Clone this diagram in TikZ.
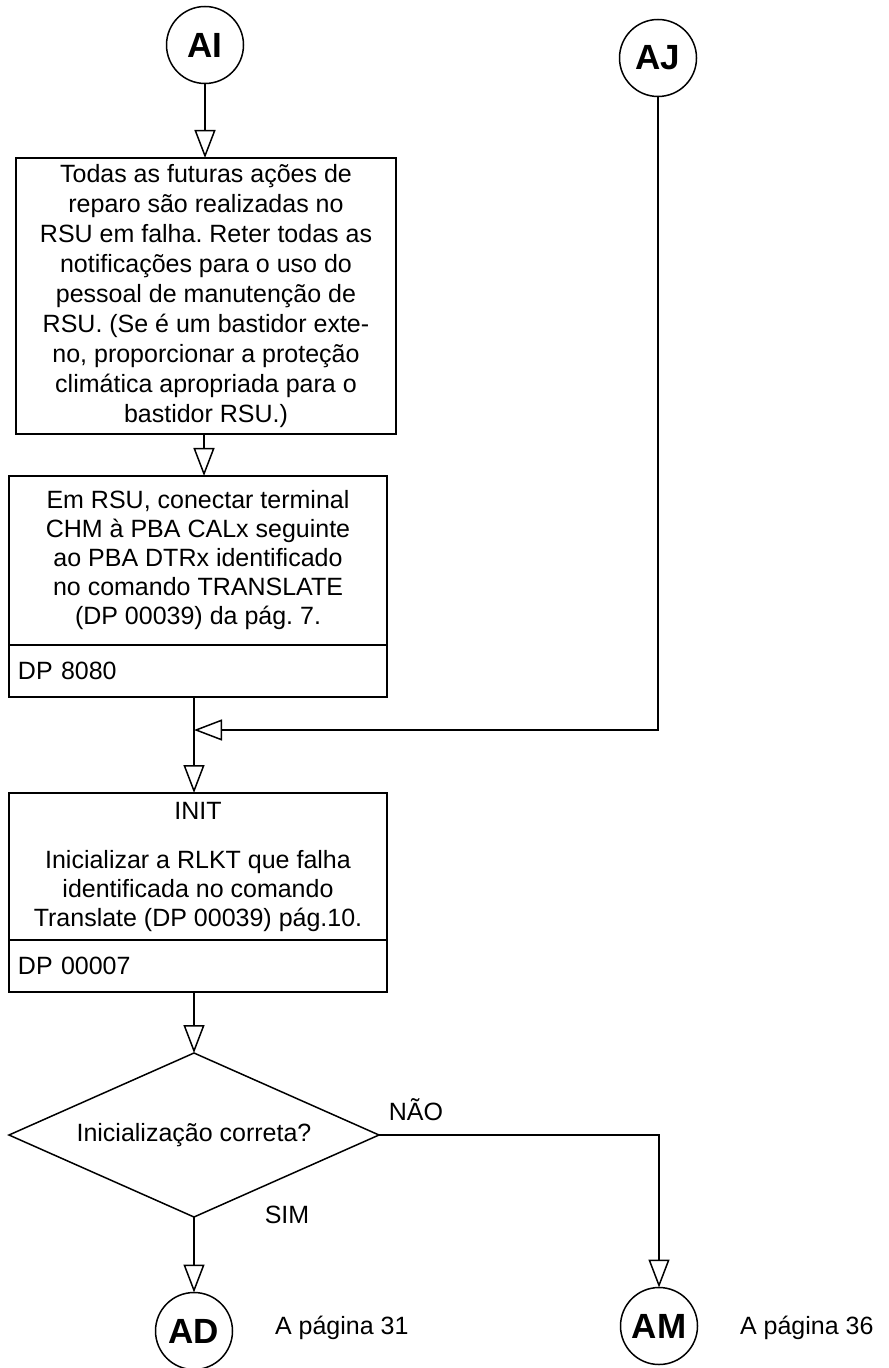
\documentclass[tikz,border=0pt]{standalone}
\usepackage{fontspec}
\setmainfont{Liberation Sans}
\newfontfamily\tagfont{Liberation Sans}
\usetikzlibrary{arrows.meta,shapes.geometric}
\frenchspacing
\begin{document}
\begin{tikzpicture}[x=0.5pt,y=-0.5pt,
  every node/.style={inner sep=0pt, outer sep=0pt},
  txt/.style={font=\fontsize{12.5}{14.5}\selectfont},
  wire/.style={line width=0.75pt, draw=black},
  tip/.style={wire, -{Triangle[open,length=14pt,width=10.5pt,line width=0.75pt]}},
  connector/.style={circle, draw, line width=0.75pt, minimum size=38.5pt,
    font=\tagfont\bfseries\fontsize{17.5}{20}\selectfont},
  procbox/.style={draw, line width=0.75pt, txt, align=center, minimum width=189pt},
  dpbox/.style={draw, line width=0.75pt, txt, align=left, minimum width=189pt,
    minimum height=26pt, text width=180pt, inner xsep=4.5pt},
  decision/.style={diamond, draw, line width=0.75pt, txt, aspect=2.25,
    minimum width=185pt, minimum height=82pt}
]
\useasboundingbox (0,0) rectangle (888,1368);

% off-page connectors
\node[connector] (AI) at (205,45) {AI};
\node[connector] (AJ) at (658,58) {AJ};

% repair note
\node[procbox, minimum width=190pt, minimum height=138pt, font=\fontsize{12.5}{15}\selectfont]
  (note) at (206,296)
  {Todas as futuras ações de\\
   reparo são realizadas no\\
   RSU em falha. Reter todas as\\
   notificações para o uso do\\
   pessoal de manutenção de\\
   RSU. (Se é um bastidor exte-\\
   no, proporcionar a proteção\\
   climática apropriada para o\\
   bastidor RSU.)};

% terminal connection step
\node[procbox, minimum height=84.5pt] (chm) at (198,560.5)
  {Em RSU, conectar terminal\\
   CHM à PBA CALx seguinte\\
   ao PBA DTRx identificado\\
   no comando TRANSLATE\\
   (DP 00039) da pág. 7.};
\node[dpbox] (chmdp) at (198,671) {DP 8080};

% initialisation step
\node[procbox, minimum height=73.5pt] (init) at (198,866.5)
  {INIT\\[10pt]
   Inicializar a RLKT que falha\\
   identificada no comando\\
   Translate (DP 00039) pág.10.};
\node[dpbox] (initdp) at (198,966) {DP 00007};

% decision
\node[decision] (ok) at (194,1135) {Inicialização correta?};
\node[txt] (nao) at (416,1110) {NÃO};
\node[txt] (sim) at (287,1215) {SIM};

% exits
\node[connector] (AD) at (194,1331) {AD};
\node[connector] (AM) at (659,1326) {AM};
\node[txt, anchor=west] (pAD) at (275,1328) {A página 31};
\node[txt, anchor=west] (pAM) at (740,1328) {A página 36};

% flow lines
\coordinate (merge) at (194,730);
\draw[tip] (AI) -- (note.north -| AI);
\draw[tip] (note.south -| 204,0) -- (chm.north -| 204,0);
\draw[wire] (chmdp.south -| merge) -- (merge);
\draw[tip] (AJ) |- (merge);
\draw[tip] (merge) -- (init.north -| merge);
\draw[tip] (initdp.south -| ok) -- (ok.north);
\draw[tip] (ok.south) -- (AD.north);
\draw[tip] (ok.east) -| (AM.north);
\end{tikzpicture}
\end{document}
